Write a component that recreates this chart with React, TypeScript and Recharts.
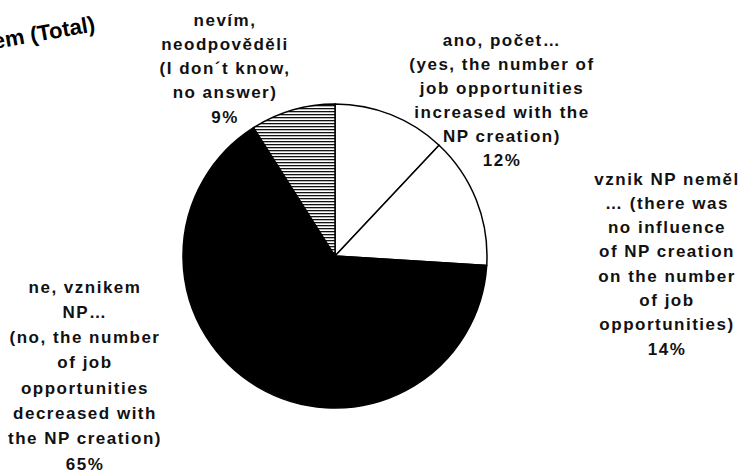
import { PieChart, Pie, Cell } from "recharts"

// answers, clockwise from 12 o'clock
const categories = ["ano", "vznik", "ne", "nevim"]
const shares = [12, 14, 65, 9]
const labelLines = [
  ["ano, počet…", "(yes, the number of", "job opportunities", "increased with the", "NP creation)"],
  ["vznik NP neměl", "… (there was", "no influence", "of NP creation", "on the number", "of job", "opportunities)"],
  ["ne, vznikem", "NP…", "(no, the number", "of job", "opportunities", "decreased with", "the NP creation)"],
  ["nevím,", "neodpověděli", "(I don´t know,", "no answer)"],
]
const titleText = "em (Total)"

const FILLS = ["#ffffff", "#ffffff", "#000000", "url(#hatch)"]

// where each label block sits (centre x, first line y, line step)
const LABEL_POS = [
  { x: 502, y: 40, step: 24 },
  { x: 667, y: 179, step: 24.3 },
  { x: 85, y: 287, step: 25.3 },
  { x: 225, y: 20, step: 24.3 },
]

const data = categories.map((c, i) => ({ name: c, value: shares[i] }))
const total = shares.reduce((a, b) => a + b, 0)

const renderLabel = (props: any) => {
  const i = props.index
  const pos = LABEL_POS[i]
  const lines = [...labelLines[i], `${Math.round((shares[i] / total) * 100)}%`]
  return (
    <text
      key={`lbl-${i}`}
      x={pos.x}
      y={pos.y}
      textAnchor="middle"
      fontFamily="'Liberation Sans', Arial, sans-serif"
      fontWeight="bold"
      fontSize={17}
      letterSpacing={1.5}
      fill="#111"
    >
      {lines.map((l, k) => (
        <tspan key={k} x={pos.x} y={pos.y + k * pos.step} dominantBaseline="central">
          {l}
        </tspan>
      ))}
    </text>
  )
}

export default function App() {
  return (
    <div style={{ position: "absolute", left: 0, top: 0, width: 746, height: 476, background: "#fff" }}>
      <PieChart width={746} height={476} margin={{ top: 0, right: 0, bottom: 0, left: 0 }}>
        <defs>
          <pattern id="hatch" width="6" height="3" patternUnits="userSpaceOnUse">
            <rect width="6" height="3" fill="#fff" />
            <rect width="6" height="1.3" fill="#111" />
          </pattern>
        </defs>
        <text
          x={-6}
          y={48}
          transform="rotate(-10 0 48)"
          fontFamily="'Liberation Sans', Arial, sans-serif"
          fontWeight="900"
          fontSize={22}
          fill="#000"
        >
          {titleText}
        </text>
        <Pie
          data={data}
          dataKey="value"
          cx={335}
          cy={256}
          outerRadius={152}
          startAngle={90}
          endAngle={-270}
          stroke="#000"
          strokeWidth={1.5}
          labelLine={false}
          label={renderLabel}
          isAnimationActive={false}
        >
          {data.map((d, i) => (
            <Cell key={`cell-${i}`} fill={FILLS[i]} />
          ))}
        </Pie>
      </PieChart>
    </div>
  )
}
